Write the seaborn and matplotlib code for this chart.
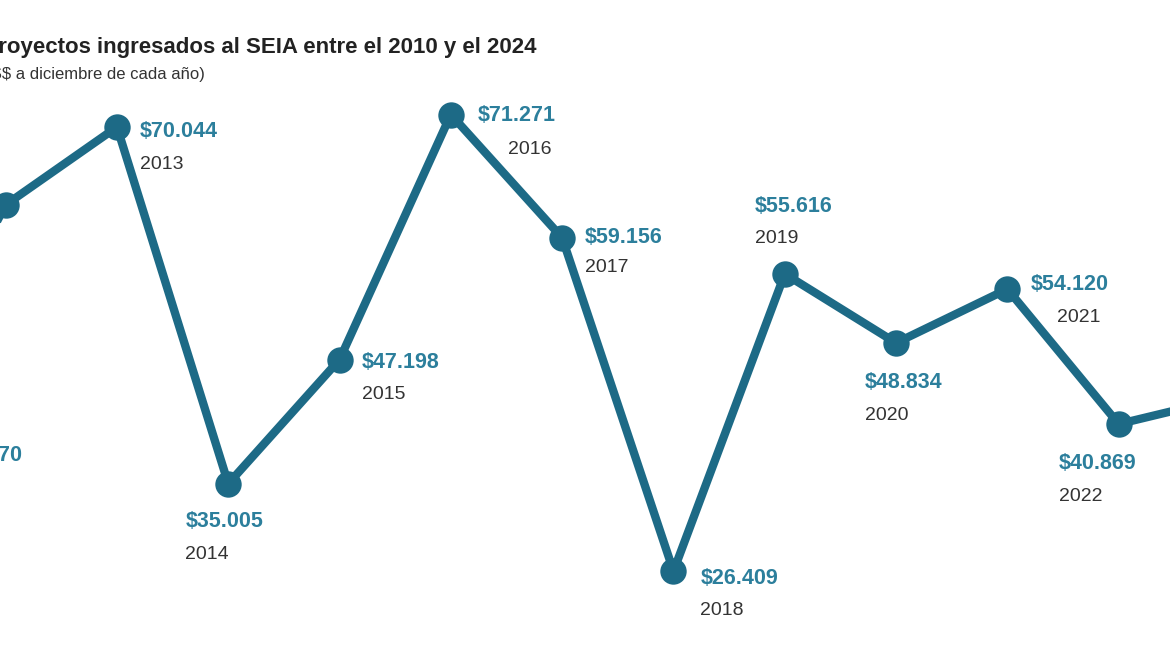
import matplotlib
matplotlib.use("Agg")
import matplotlib.pyplot as plt
import seaborn as sns
import pandas as pd

years = [2011, 2012, 2013, 2014, 2015, 2016, 2017, 2018, 2019, 2020, 2021, 2022, 2023]
values = [41470, 62400, 70044, 35005, 47198, 71271, 59156, 26409, 55616, 48834, 54120, 40869, 43500]
value_labels = ["$41.470", "", "$70.044", "$35.005", "$47.198", "$71.271", "$59.156",
                "$26.409", "$55.616", "$48.834", "$54.120", "$40.869", ""]
df = pd.DataFrame({"year": years, "value": values})

# label offsets in pixels (value label, year label)
offsets = {
    2011: ((50, -38), None),
    2013: ((23, -5), (23, -38)),
    2014: ((-43, -38), (-43, -71)),
    2015: ((22, -3), (22, -35)),
    2016: ((27, -1), (57, -35)),
    2017: ((23, 0), (23, -30)),
    2018: ((27, -7), (27, -39)),
    2019: ((-30, 67), (-30, 35)),
    2020: ((-31, -40), (-31, -73)),
    2021: ((23, 5), (50, -28)),
    2022: ((-60, -40), (-60, -73)),
}

teal = "#1d6a86"
fig = plt.figure(figsize=(11.7, 6.48), dpi=100)
ax = fig.add_axes([0, 0, 1, 1])
sns.lineplot(data=df, x="year", y="value", ax=ax, color=teal, linewidth=6,
             marker="o", markersize=19, markeredgewidth=0, clip_on=False)
ax.set_xlim(2011.949, 2022.461)
ax.set_ylim(18865, 82519)
ax.axis("off")

for y, v, lab in zip(years, values, value_labels):
    if y not in offsets:
        continue
    vo, yo = offsets[y]
    ax.annotate(lab, (y, v), xytext=vo, textcoords="offset pixels", ha="left", va="center",
                fontsize=15.5, fontweight="bold", color="#2c7f9c", family="Liberation Sans",
                annotation_clip=False)
    if yo:
        ax.annotate(str(y), (y, v), xytext=yo, textcoords="offset pixels", ha="left", va="center",
                    fontsize=14, color="#333333", family="Liberation Sans", annotation_clip=False)

fig.text(537 / 1170, 1 - 47 / 648, "Inversión de proyectos ingresados al SEIA entre el 2010 y el 2024",
         ha="right", va="center", fontsize=16, fontweight="bold", color="#222222", family="Liberation Sans")
fig.text(205 / 1170, 1 - 75 / 648, "(en millones de US$ a diciembre de cada año)",
         ha="right", va="center", fontsize=12, color="#333333", family="Liberation Sans")

fig.savefig("out.png", dpi=100, facecolor="white")
